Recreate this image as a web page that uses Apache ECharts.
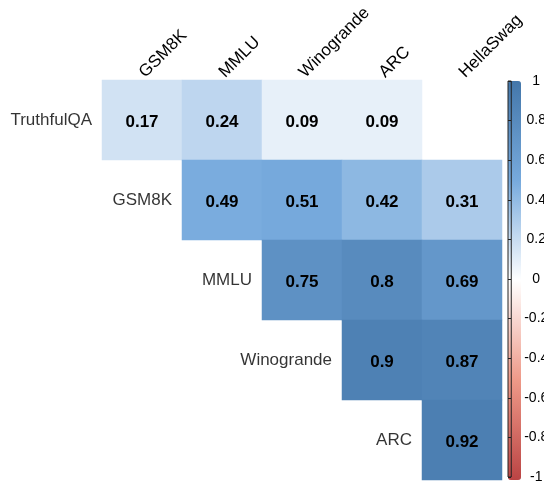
<!DOCTYPE html>
<html>
<head>
<meta charset="utf-8">
<script src="https://cdn.jsdelivr.net/npm/echarts@6/dist/echarts.min.js"></script>
<style>html,body{margin:0;padding:0;background:#fff;}#c{width:544px;height:484px;}</style>
</head>
<body>
<div id="c"></div>
<script>
const rows = ['TruthfulQA', 'GSM8K', 'MMLU', 'Winogrande', 'ARC'];
const cols = ['GSM8K', 'MMLU', 'Winogrande', 'ARC', 'HellaSwag'];
const truthfulqa = [0.17, 0.24, 0.09, 0.09, null];
const gsm8k = [null, 0.49, 0.51, 0.42, 0.31];
const mmlu = [null, null, 0.75, 0.8, 0.69];
const winogrande = [null, null, null, 0.9, 0.87];
const arc = [null, null, null, null, 0.92];
const colorbarTicks = ['-1', '-0.8', '-0.6', '-0.4', '-0.2', '0', '0.2', '0.4', '0.6', '0.8', '1'];
const palette = ['#BB4444', '#EE9988', '#FFFFFF', '#77AADD', '#4477AA'];

const matrix = [truthfulqa, gsm8k, mmlu, winogrande, arc];
const cells = [];
matrix.forEach((r, i) => r.forEach((v, j) => { if (v !== null) cells.push([j, i, v]); }));
const rowLabelPts = rows.map((name, i) => ({ value: [i, i], name: name }));

const FONT = 'Liberation Sans';
const chart = echarts.init(document.getElementById('c'), null, { renderer: 'canvas' });
chart.setOption({
  animation: false,
  textStyle: { fontFamily: FONT },
  grid: [
    { left: 102, top: 80, width: 400, height: 400, show: false },
    { left: 508, top: 81, width: 13, height: 399, show: true, borderColor: '#222', borderWidth: 1, backgroundColor: 'transparent', z: 10 }
  ],
  xAxis: [
    { type: 'category', data: cols, position: 'top', gridIndex: 0, z: 10,
      axisLine: { show: false }, axisTick: { show: false }, splitLine: { show: false },
      axisLabel: { rotate: -45, align: 'left', verticalAlign: 'middle', margin: 5, fontSize: 17, color: '#000', fontFamily: FONT, interval: 0 } },
    { type: 'value', gridIndex: 1, show: false, min: 0, max: 1 }
  ],
  yAxis: [
    { type: 'category', data: rows, inverse: true, gridIndex: 0, show: false },
    { type: 'value', gridIndex: 1, min: -1, max: 1, interval: 0.2, position: 'right', z: 10,
      axisLine: { show: false }, splitLine: { show: false },
      axisTick: { show: true, length: 3, lineStyle: { color: '#222' } },
      axisLabel: { fontSize: 14, color: '#000', align: 'center', margin: 25, fontFamily: FONT,
        formatter: v => colorbarTicks[Math.round((v + 1) * 5)] } }
  ],
  visualMap: {
    type: 'continuous', min: -1, max: 1, seriesIndex: 0, calculable: false,
    orient: 'vertical', left: 508, top: 81, itemWidth: 13, itemHeight: 399,
    padding: 0, text: null, showLabel: false, z: 1,
    inRange: { color: palette }
  },
  series: [
    { type: 'heatmap', xAxisIndex: 0, yAxisIndex: 0, data: cells,
      itemStyle: { borderWidth: 0 },
      label: { show: true, fontSize: 17, fontWeight: 'bold', color: '#000', fontFamily: FONT, offset: [0, 2],
        formatter: p => String(p.value[2]) },
      emphasis: { disabled: true } },
    { type: 'scatter', xAxisIndex: 0, yAxisIndex: 0, data: rowLabelPts, symbolSize: 0,
      label: { show: true, position: 'left', distance: 50, fontSize: 17, color: '#000', fontFamily: FONT,
        formatter: p => p.name },
      emphasis: { disabled: true }, silent: true }
  ]
});
</script>
</body>
</html>
